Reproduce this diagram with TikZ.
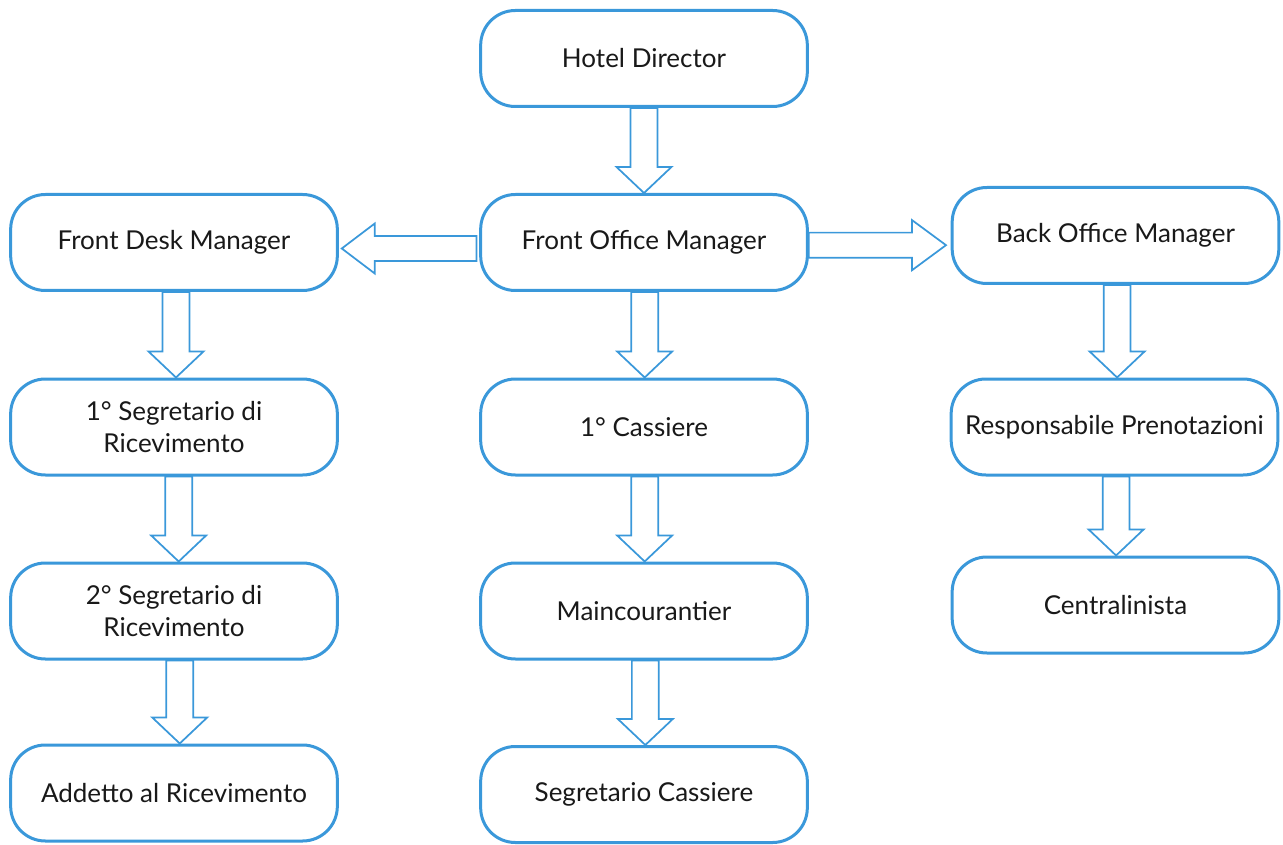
\documentclass[tikz,border=0pt]{standalone}
\usepackage{fontspec}
\setmainfont{Lato}
\usetikzlibrary{calc}
\definecolor{orgblue}{HTML}{3A98DA}
\tikzset{
  role/.style={draw=orgblue, line width=2.25pt, rounded corners=26pt, fill=white,
    minimum width=245pt, minimum height=72pt, align=center, inner sep=2pt,
    font=\fontsize{19.5}{24}\selectfont, text=black!90},
  blk/.style={draw=orgblue, line width=1.3pt, fill=white, line join=miter},
}
% downward block arrow from the bottom of #1 to the top of #2, shifted by #3 (pt)
\newcommand{\blockdown}[3]{%
  \draw[blk] let \p1=(#1.south), \p2=(#2.north) in
    (\x1+#3-10.1pt,\y1) -- (\x1+#3-10.1pt,\y2+19.5pt) -- (\x1+#3-20.6pt,\y2+19.5pt)
    -- (\x1+#3,\y2) -- (\x1+#3+20.6pt,\y2+19.5pt) -- (\x1+#3+10.1pt,\y2+19.5pt)
    -- (\x1+#3+10.1pt,\y1) -- cycle;}
% rightward block arrow from #1 to #2 at vertical offset #3 (pt)
\newcommand{\blockright}[3]{%
  \draw[blk] let \p1=(#1.east), \p2=(#2.west) in
    (\x1,\y1+#3+9.4pt) -- (\x2-29pt,\y1+#3+9.4pt) -- (\x2-29pt,\y1+#3+18.8pt)
    -- (\x2-3.5pt,\y1+#3) -- (\x2-29pt,\y1+#3-18.8pt) -- (\x2-29pt,\y1+#3-9.4pt)
    -- (\x1,\y1+#3-9.4pt) -- cycle;}
% leftward block arrow from #1 to #2 at vertical offset #3 (pt)
\newcommand{\blockleft}[3]{%
  \draw[blk] let \p1=(#1.west), \p2=(#2.east) in
    (\x1-2pt,\y1+#3+9.4pt) -- (\x2+27pt,\y1+#3+9.4pt) -- (\x2+27pt,\y1+#3+18.8pt)
    -- (\x2+2.2pt,\y1+#3) -- (\x2+27pt,\y1+#3-18.8pt) -- (\x2+27pt,\y1+#3-9.4pt)
    -- (\x1-2pt,\y1+#3-9.4pt) -- cycle;}
\begin{document}
\begin{tikzpicture}[x=0.75pt,y=-0.75pt]
  \useasboundingbox (0,0) rectangle (1283,845);
  % central column
  \node[role] (hd)   at (644,58.5)  {Hotel Director};
  \node[role] (fom)  at (644,242.5) {Front Office Manager};
  \node[role] (cas1) at (644,427)   {1° Cassiere};
  \node[role] (mcr)  at (644,611)   {Maincourantier};
  \node[role] (scas) at (644,794.5) {Segretario Cassiere};
  % left column
  \node[role] (fdm)  at (174,242.5) {Front Desk Manager};
  \node[role] (seg1) at (174,427)   {1° Segretario di\\Ricevimento};
  \node[role] (seg2) at (174,611)   {2° Segretario di\\Ricevimento};
  \node[role] (add)  at (174,793)   {Addetto al Ricevimento};
  % right column
  \node[role] (bom)  at (1115.5,235.5) {Back Office Manager};
  \node[role] (resp) at (1114.5,427)   {Responsabile Prenotazioni};
  \node[role] (cen)  at (1115.5,605)   {Centralinista};
  % connectors
  \blockdown{hd}{fom}{0pt}
  \blockdown{fom}{cas1}{0.5pt}
  \blockdown{cas1}{mcr}{0.5pt}
  \blockdown{mcr}{scas}{1pt}
  \blockdown{fdm}{seg1}{1.5pt}
  \blockdown{seg1}{seg2}{3.5pt}
  \blockdown{seg2}{add}{4.3pt}
  \blockdown{bom}{resp}{1.2pt}
  \blockdown{resp}{cen}{1.2pt}
  \blockleft{fom}{fdm}{-4.5pt}
  \blockright{fom}{bom}{-2pt}
\end{tikzpicture}
\end{document}
